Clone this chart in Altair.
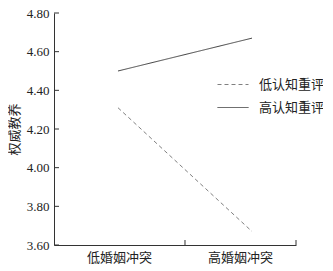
import altair as alt
import pandas as pd

categories = ["低婚姻冲突", "高婚姻冲突"]
series_names = ["低认知重评", "高认知重评"]
low_reappraisal = [4.31, 3.67]
high_reappraisal = [4.50, 4.67]
y_ticks = [3.60, 3.80, 4.00, 4.20, 4.40, 4.60, 4.80]
y_title = "权威教养"

X_DOMAIN = [-0.4776, 1.3284]
band_edges = [X_DOMAIN[0], 0.5, X_DOMAIN[1]]

rows = []
for i, c in enumerate(categories):
    rows.append({"pos": i, "cat": c, "series": series_names[0], "value": low_reappraisal[i]})
    rows.append({"pos": i, "cat": c, "series": series_names[1], "value": high_reappraisal[i]})
df = pd.DataFrame(rows)

W, H = 242, 232
AX = "#333333"
CJK = "Noto Sans CJK SC"
NUM = "Liberation Serif"

xscale = alt.Scale(domain=X_DOMAIN, nice=False, zero=False)
yscale = alt.Scale(domain=[3.6, 4.8], nice=False, zero=False)

xaxis = alt.Axis(domain=True, ticks=False, labels=False, grid=False,
                 title=None, domainColor=AX)
yaxis = alt.Axis(values=y_ticks, format=".2f", grid=False, tickSize=0,
                 labelOverlap=False, labelBound=False, labelFlush=False,
                 labelPadding=5, labelFont=NUM, labelFontSize=13,
                 labelColor="#222", domainColor=AX,
                 title=y_title, titleFont=CJK, titleFontSize=13,
                 titleFontWeight="normal", titleColor="#222",
                 titleAngle=-90, titleX=-40, titleY=116,
                 titleAlign="center", titleBaseline="middle")

legend = alt.Legend(
    orient="none", legendX=163, legendY=55.5, title=None,
    symbolType="stroke", symbolSize=961, symbolStrokeWidth=1,
    labelFontSize=13, labelFont=CJK, labelColor="#222", labelOffset=10,
    rowPadding=-13, padding=0,
)

lines = alt.Chart(df).mark_line(strokeWidth=1).encode(
    x=alt.X("pos:Q", scale=xscale, axis=xaxis),
    y=alt.Y("value:Q", scale=yscale, axis=yaxis),
    color=alt.Color("series:N",
                    scale=alt.Scale(domain=series_names, range=["#808080", "#404040"]),
                    legend=legend),
    strokeDash=alt.StrokeDash("series:N",
                              scale=alt.Scale(domain=series_names, range=[[4, 3], [1, 0]]),
                              legend=legend),
)

ytick_df = pd.DataFrame({"v": y_ticks})
yticks = alt.Chart(ytick_df).mark_rule(color=AX, strokeWidth=1).encode(
    y=alt.Y("v:Q", scale=yscale, axis=yaxis),
    x=alt.value(0), x2=alt.value(5),
)

xtick_df = pd.DataFrame({"e": band_edges[1:]})
xticks = alt.Chart(xtick_df).mark_rule(color=AX, strokeWidth=1).encode(
    x=alt.X("e:Q", scale=xscale, axis=xaxis),
    y=alt.value(H), y2=alt.value(H - 5),
)

lab_df = pd.DataFrame({
    "mid": [(band_edges[i] + band_edges[i + 1]) / 2 for i in range(len(categories))],
    "cat": categories,
})
xlabels = alt.Chart(lab_df).mark_text(font=CJK, fontSize=13, color="#222",
                                      baseline="middle", align="center").encode(
    x=alt.X("mid:Q", scale=xscale, axis=xaxis),
    y=alt.value(H + 13),
    text="cat:N",
)

chart = alt.layer(lines, yticks, xticks, xlabels).properties(
    width=W, height=H,
    background="white",
    autosize=alt.AutoSizeParams(type="none"),
    padding={"left": 46, "top": 5, "right": 27, "bottom": 26},
).configure_view(stroke=None)

chart.save("out.html", embed_options={"renderer": "svg", "actions": False})
